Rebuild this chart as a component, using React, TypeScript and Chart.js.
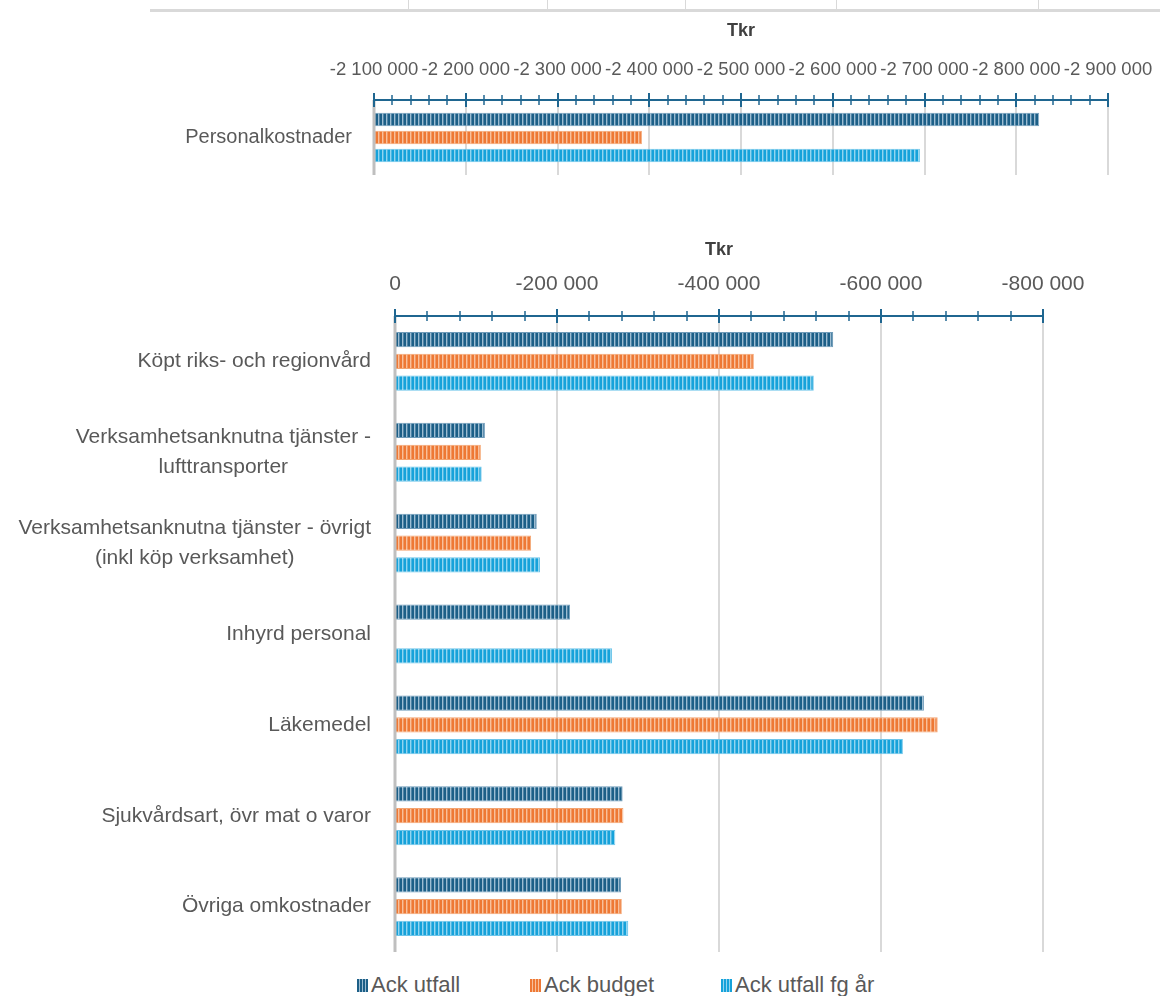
import React, { useEffect, useRef } from 'react';
import { Chart, registerables } from 'chart.js';

Chart.register(...registerables);

// ---------- data ----------
const SERIES_NAMES = ['Ack utfall', 'Ack budget', 'Ack utfall fg år'];

const TOP_CATEGORIES = ['Personalkostnader'];
const TOP_ACK_UTFALL = [-2825000];
const TOP_ACK_BUDGET = [-2392000];
const TOP_ACK_UTFALL_FG = [-2695000];
const TOP_AXIS_MIN = -2900000;
const TOP_AXIS_MAX = -2100000;
const TOP_MAJOR_STEP = 100000;
const TOP_MINOR_STEP = 20000;

const CATEGORIES = [
  'Köpt riks- och regionvård',
  ['Verksamhetsanknutna tjänster -', 'lufttransporter'],
  ['Verksamhetsanknutna tjänster - övrigt', '(inkl köp verksamhet)'],
  'Inhyrd personal',
  'Läkemedel',
  'Sjukvårdsart, övr mat o varor',
  'Övriga omkostnader',
];
const ACK_UTFALL = [-541000, -111000, -175000, -216000, -653000, -281000, -279000];
const ACK_BUDGET = [-443000, -106000, -168000, null, -670000, -282000, -280000];
const ACK_UTFALL_FG = [-517000, -107000, -179000, -268000, -627000, -272000, -288000];
const AXIS_MIN = -800000;
const AXIS_MAX = 0;
const MAJOR_STEP = 200000;
const MINOR_STEP = 40000;
const AXIS_TITLE = 'Tkr';

// ---------- styles ----------
const SERIES_COLORS = [
  { base: '#1c5f87', mid: '#4f84a6', stripe: '#9dbdd2', border: '#6f9cba' },
  { base: '#ee7834', mid: '#f29862', stripe: '#f8c09c', border: '#f4a470' },
  { base: '#16a2da', mid: '#4cb7e3', stripe: '#92d5f0', border: '#6cc5ea' },
];
const AXIS_COLOR = '#1f6690';
const TEXT_COLOR = '#595959';
const TITLE_COLOR = '#404040';
const FONT = '"Liberation Sans", Arial, sans-serif';

function makePattern(c: { base: string; mid: string; stripe: string }) {
  const cv = document.createElement('canvas');
  cv.width = 4;
  cv.height = 4;
  const g = cv.getContext('2d')!;
  g.fillStyle = c.base;
  g.fillRect(0, 0, 4, 4);
  g.fillStyle = c.stripe;
  g.fillRect(2, 0, 1, 4);
  g.fillStyle = c.mid;
  g.fillRect(3, 0, 1, 4);
  return g.createPattern(cv, 'repeat')!;
}

function fmt(v: number) {
  const n = Math.round(Number(v));
  const s = Math.abs(n).toString().replace(/\B(?=(\d{3})+(?!\d))/g, ' ');
  return (n < 0 ? '-' : '') + s;
}

const excelAxisPlugin = {
  id: 'excelAxis',
  afterDatasetsDraw(chart: any, _args: any, opts: any) {
    const { ctx, chartArea: a } = chart;
    const xs = chart.scales.x;
    ctx.save();
    ctx.strokeStyle = '#bfbfbf';
    ctx.lineWidth = 3;
    ctx.beginPath();
    ctx.moveTo(a.left, a.top);
    ctx.lineTo(a.left, a.bottom);
    ctx.stroke();
    ctx.strokeStyle = AXIS_COLOR;
    ctx.lineWidth = 2;
    ctx.beginPath();
    ctx.moveTo(a.left, a.top);
    ctx.lineTo(a.right, a.top);
    ctx.stroke();
    const count = Math.round((xs.max - xs.min) / opts.minor);
    const ratio = Math.round(opts.major / opts.minor);
    for (let i = 0; i <= count; i++) {
      const v = xs.max - i * opts.minor;
      const x = Math.round(xs.getPixelForValue(v));
      const major = i % ratio === 0;
      const h = major ? 7 : 5;
      ctx.lineWidth = major ? 2 : 1.5;
      ctx.beginPath();
      ctx.moveTo(x, a.top - h);
      ctx.lineTo(x, a.top + h);
      ctx.stroke();
    }
    ctx.restore();
  },
  afterDraw(chart: any, _args: any, opts: any) {
    const { ctx, chartArea: a } = chart;
    const ys = chart.scales.y;
    const labels = chart.data.labels as any[];
    ctx.save();
    ctx.font = opts.font;
    ctx.fillStyle = TEXT_COLOR;
    ctx.textBaseline = 'middle';
    ctx.textAlign = 'center';
    labels.forEach((lab, i) => {
      const lines: string[] = Array.isArray(lab) ? lab : [lab];
      const w = Math.max(...lines.map((l) => ctx.measureText(l).width));
      const cx = a.left - opts.gap - w / 2;
      const cy = ys.getPixelForValue(i);
      lines.forEach((l, j) => {
        ctx.fillText(l, cx, cy + (j - (lines.length - 1) / 2) * opts.lineHeight);
      });
    });
    ctx.restore();
  },
};

function buildConfig(p: {
  labels: any[];
  series: (number | null)[][];
  min: number;
  max: number;
  major: number;
  minor: number;
  tickFont: number;
  labelFont: string;
  gap: number;
  padding: any;
  scaleHeight: number;
  tickPadding: number;
  catPct: number;
  barPct: number;
}) {
  return {
    type: 'bar' as const,
    data: {
      labels: p.labels,
      datasets: p.series.map((d, i) => ({
        label: SERIES_NAMES[i],
        data: d,
        backgroundColor: makePattern(SERIES_COLORS[i]),
        borderColor: SERIES_COLORS[i].border,
        borderWidth: 1,
        categoryPercentage: p.catPct,
        barPercentage: p.barPct,
        clip: 0,
      })),
    },
    options: {
      indexAxis: 'y' as const,
      responsive: false,
      animation: false as const,
      devicePixelRatio: 1,
      layout: { padding: p.padding },
      plugins: {
        legend: { display: false },
        tooltip: { enabled: false },
        excelAxis: {
          major: p.major,
          minor: p.minor,
          font: p.labelFont,
          gap: p.gap,
          lineHeight: 30,
        },
      },
      scales: {
        x: {
          type: 'linear' as const,
          position: 'top' as const,
          reverse: true,
          min: p.min,
          max: p.max,
          afterFit: (s: any) => {
            s.height = p.scaleHeight;
            s.paddingLeft = 0;
            s.paddingRight = 0;
          },
          ticks: {
            stepSize: p.major,
            autoSkip: false,
            maxRotation: 0,
            minRotation: 0,
            padding: p.tickPadding,
            color: TEXT_COLOR,
            font: { family: FONT, size: p.tickFont },
            callback: (v: any) => fmt(v),
          },
          grid: { color: '#d9d9d9', lineWidth: 2, drawTicks: false },
          border: { display: false },
          title: {
            display: true,
            text: AXIS_TITLE,
            color: TITLE_COLOR,
            font: { family: FONT, size: 18, weight: 'bold' as const },
            padding: { top: 0, bottom: 0 },
          },
        },
        y: {
          type: 'category' as const,
          afterFit: (s: any) => {
            s.width = 0;
          },
          ticks: { display: false },
          grid: { display: false, drawTicks: false },
          border: { display: false },
        },
      },
    },
    plugins: [excelAxisPlugin],
  };
}

function Swatch({ i }: { i: number }) {
  const c = SERIES_COLORS[i];
  return (
    <span
      style={{
        display: 'inline-block',
        width: 11,
        height: 13,
        background: `repeating-linear-gradient(90deg, ${c.base} 0px, ${c.base} 2px, ${c.stripe} 2px, ${c.stripe} 3px)`,
      }}
    />
  );
}

const LEGEND_X = [357, 530, 721];

export default function App() {
  const topRef = useRef<HTMLCanvasElement | null>(null);
  const botRef = useRef<HTMLCanvasElement | null>(null);

  useEffect(() => {
    const top = new Chart(
      topRef.current!,
      buildConfig({
        labels: TOP_CATEGORIES,
        series: [TOP_ACK_UTFALL, TOP_ACK_BUDGET, TOP_ACK_UTFALL_FG],
        min: TOP_AXIS_MIN,
        max: TOP_AXIS_MAX,
        major: TOP_MAJOR_STEP,
        minor: TOP_MINOR_STEP,
        tickFont: 18.5,
        labelFont: `20px ${FONT}`,
        gap: 22,
        padding: { left: 374, right: 52, top: 20, bottom: 15 },
        scaleHeight: 80,
        tickPadding: 19,
        catPct: 0.72,
        barPct: 0.76,
      }) as any
    );
    const bot = new Chart(
      botRef.current!,
      buildConfig({
        labels: CATEGORIES,
        series: [ACK_UTFALL, ACK_BUDGET, ACK_UTFALL_FG],
        min: AXIS_MIN,
        max: AXIS_MAX,
        major: MAJOR_STEP,
        minor: MINOR_STEP,
        tickFont: 21,
        labelFont: `21px ${FONT}`,
        gap: 24,
        padding: { left: 395, right: 117, top: 19, bottom: 8 },
        scaleHeight: 77,
        tickPadding: 19,
        catPct: 0.72,
        barPct: 0.7,
      }) as any
    );
    return () => {
      top.destroy();
      bot.destroy();
    };
  }, []);

  return (
    <div
      style={{
        position: 'absolute',
        left: 0,
        top: 0,
        width: 1160,
        height: 996,
        background: '#ffffff',
        overflow: 'hidden',
        fontFamily: FONT,
      }}
    >
      <div style={{ position: 'absolute', left: 150, top: 9, width: 1010, height: 3, background: '#d9d9d9' }} />
      {[408, 547, 685, 836, 1038].map((x) => (
        <div key={x} style={{ position: 'absolute', left: x, top: 0, width: 1, height: 9, background: '#d9d9d9' }} />
      ))}
      <canvas
        ref={topRef}
        width={1160}
        height={190}
        style={{ position: 'absolute', left: 0, top: 0, width: 1160, height: 190 }}
      />
      <canvas
        ref={botRef}
        width={1160}
        height={740}
        style={{ position: 'absolute', left: 0, top: 220, width: 1160, height: 740 }}
      />
      {SERIES_NAMES.map((name, i) => (
        <div
          key={name}
          style={{
            position: 'absolute',
            left: LEGEND_X[i],
            top: 971,
            height: 28,
            display: 'flex',
            alignItems: 'center',
            whiteSpace: 'nowrap',
            color: TEXT_COLOR,
            fontSize: 22,
            lineHeight: '28px',
          }}
        >
          <Swatch i={i} />
          <span style={{ marginLeft: 3 }}>{name}</span>
        </div>
      ))}
    </div>
  );
}
